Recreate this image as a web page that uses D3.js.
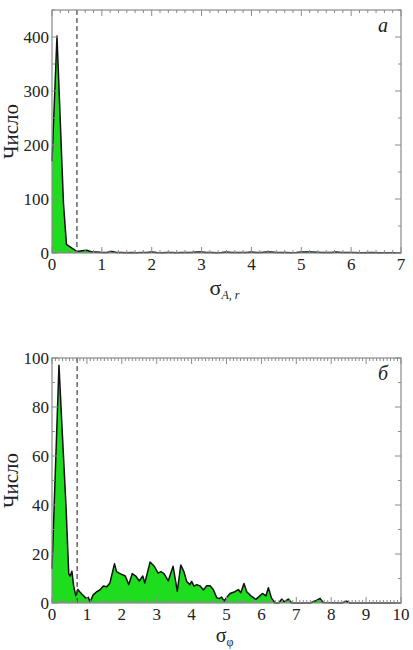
<!DOCTYPE html>
<html><head><meta charset="utf-8">
<script src="https://cdn.jsdelivr.net/npm/d3@7"></script>
<style>body{margin:0;background:#fff}svg{display:block}</style>
</head><body>
<svg id="c" width="413" height="650"></svg>
<script>
// Panel a: sigma_{A,r} histogram (vertex x, count)
const aX = [0,0.1,0.23,0.29,0.4,0.5,0.6,0.7,0.8,0.9,1.0,1.1,1.2,1.3,1.4,1.5,1.6,1.7,1.8,1.9,2.0,2.1,2.2,2.3,2.4,2.5,2.6,2.7,2.8,2.9,3.0,3.1,3.2,3.3,3.4,3.5,3.6,3.7,3.8,3.9,4.0,4.1,4.2,4.3,4.4,4.5,4.6,4.7,4.8,4.9,5.0,5.1,5.2,5.3,5.4,5.5,5.6,5.7,5.8,5.9,6.0,6.2,6.4,6.6,6.8,7.0];
const aY = [170,402,92,16,9,3,4,5,2,2,1,1,3,1,1,0.5,1,0.5,1,1,2,1,0.5,1,1,0.5,1,1,1,2,2,1,1,0.5,1,2,1,1,1,1,2,1,1,2,2,1,1,1,0.5,1,2,2,2,1.5,1,1,1,2,1,1,1,0.5,1,0.5,0.5,0.5];
// Panel б: sigma_phi histogram
const bX = [0,0.2,0.3,0.4,0.48,0.52,0.57,0.62,0.68,0.74,0.8,0.9,0.97,1.04,1.09,1.18,1.28,1.37,1.47,1.57,1.66,1.79,1.85,1.95,2.1,2.2,2.3,2.4,2.5,2.6,2.66,2.81,2.93,3.04,3.12,3.21,3.33,3.47,3.59,3.69,3.78,3.86,3.95,4.0,4.07,4.15,4.24,4.34,4.43,4.53,4.62,4.72,4.79,4.86,4.93,5.0,5.1,5.24,5.34,5.41,5.5,5.58,5.7,5.84,5.93,6.03,6.13,6.2,6.29,6.39,6.5,6.58,6.65,6.77,6.87,7.4,7.54,7.68,7.77,8.3,8.44,8.54,10];
const bY = [14,97,68,40,12,11,13,7,3,5.5,4.5,3,2,2.3,0.4,3.3,4.6,5.3,6.9,6.6,8.2,16,12.8,12,11,7.5,12,11,9,11,8.2,16.7,15,12.2,12.8,12,9,15,4.8,15.5,12.8,8.8,7.5,8.8,6.9,7.5,7,5.3,7,7,5.5,2.2,1.8,2.4,0.8,2.2,3.9,4.6,5.5,4.2,8,4.6,2.9,1.5,2.6,3.9,2.9,6.2,2,0,0,1.6,0.5,1.6,0,0,0.8,1.9,0.2,0,0.7,0,0];

const aXTicks = [0,1,2,3,4,5,6,7];
const aYTicks = [0,100,200,300,400];
const bXTicks = [0,1,2,3,4,5,6,7,8,9,10];
const bYTicks = [0,20,40,60,80,100];

const svg = d3.select("#c");
const serif = "'Times New Roman','Liberation Serif',Tinos,'DejaVu Serif',serif";

function panel(o){
  const g = svg.append("g");
  const x = d3.scaleLinear().domain(o.xd).range([o.l, o.r]);
  const y = d3.scaleLinear().domain(o.yd).range([o.b, o.t]);
  const data = o.xs.map((v,i)=>[v,o.ys[i]]);
  g.append("path").datum(data)
    .attr("d", d3.area().x(d=>x(d[0])).y0(y(0)).y1(d=>y(d[1])))
    .attr("fill","#1edc1e");
  g.append("path").datum(data)
    .attr("d", d3.line().x(d=>x(d[0])).y(d=>y(d[1])))
    .attr("fill","none").attr("stroke","#111").attr("stroke-width",1.5).attr("stroke-linejoin","round");
  g.append("line").attr("x1",x(o.dash)).attr("x2",x(o.dash)).attr("y1",y(o.yd[1])).attr("y2",y(0))
    .attr("stroke","#444").attr("stroke-width",1.2).attr("stroke-dasharray","5,3");
  const tc = "#8a8a8a";
  const xm = d3.range(o.xd[0], o.xd[1]+1e-9, o.xMinor);
  xm.forEach(v=>{
    const isMaj = Math.abs(v-Math.round(v))<1e-6;
    const len = isMaj?6:3;
    g.append("line").attr("x1",x(v)).attr("x2",x(v)).attr("y1",o.b).attr("y2",o.b-len).attr("stroke",tc).attr("stroke-width",1);
    g.append("line").attr("x1",x(v)).attr("x2",x(v)).attr("y1",o.t).attr("y2",o.t+len).attr("stroke",tc).attr("stroke-width",1);
  });
  const ym = d3.range(o.yd[0], o.yd[1]+1e-9, o.yMinor);
  ym.forEach(v=>{
    const isMaj = o.yTicks.includes(v);
    const len = isMaj?6:3;
    g.append("line").attr("y1",y(v)).attr("y2",y(v)).attr("x1",o.l).attr("x2",o.l+len).attr("stroke",tc).attr("stroke-width",1);
    g.append("line").attr("y1",y(v)).attr("y2",y(v)).attr("x1",o.r).attr("x2",o.r-len).attr("stroke",tc).attr("stroke-width",1);
  });
  g.append("rect").attr("x",o.l).attr("y",o.t).attr("width",o.r-o.l).attr("height",o.b-o.t)
    .attr("fill","none").attr("stroke","#8a8a8a").attr("stroke-width",1.2);
  g.selectAll(null).data(o.xTicks).enter().append("text")
    .attr("x",d=>x(d)).attr("y",o.b+17).attr("text-anchor","middle")
    .attr("font-family",serif).attr("font-size",17).attr("fill","#222").text(d=>d);
  g.selectAll(null).data(o.yTicks).enter().append("text")
    .attr("x",o.l-3).attr("y",d=>y(d)+6).attr("text-anchor","end")
    .attr("font-family",serif).attr("font-size",17).attr("fill","#222").text(d=>d);
  g.append("text").attr("transform",`translate(${o.l-34},${(o.t+o.b)/2}) rotate(-90)`)
    .attr("text-anchor","middle").attr("font-family",serif).attr("font-size",21).attr("fill","#222").text("Число");
  g.append("text").attr("x",o.r-18).attr("y",o.t+22).attr("text-anchor","middle")
    .attr("font-family",serif).attr("font-style","italic").attr("font-size",20).attr("fill","#222").text(o.letter);
  const xl = g.append("text").attr("x",(o.l+o.r)/2-2).attr("y",o.xlY).attr("text-anchor","middle")
    .attr("font-family",serif).attr("fill","#222");
  xl.append("tspan").attr("font-size",o.xlSize).text("σ");
  xl.append("tspan").attr("font-size",12).attr("dy",4).attr("fill","#222")
    .attr("font-style",o.subItalic?"italic":"normal").text(o.sub);
}

panel({l:52,r:401,t:10,b:253,xd:[0,7],yd:[0,450],xs:aX,ys:aY,dash:0.5,
  xTicks:aXTicks,yTicks:aYTicks,xMinor:1/6,yMinor:50,letter:"а",sub:"A, r",subItalic:true,xlY:295,xlSize:22});
panel({l:52,r:401,t:358,b:603,xd:[0,10],yd:[0,100],xs:bX,ys:bY,dash:0.72,
  xTicks:bXTicks,yTicks:bYTicks,xMinor:0.1,yMinor:10,letter:"б",sub:"φ",subItalic:false,xlY:642,xlSize:20});
</script>
</body></html>
